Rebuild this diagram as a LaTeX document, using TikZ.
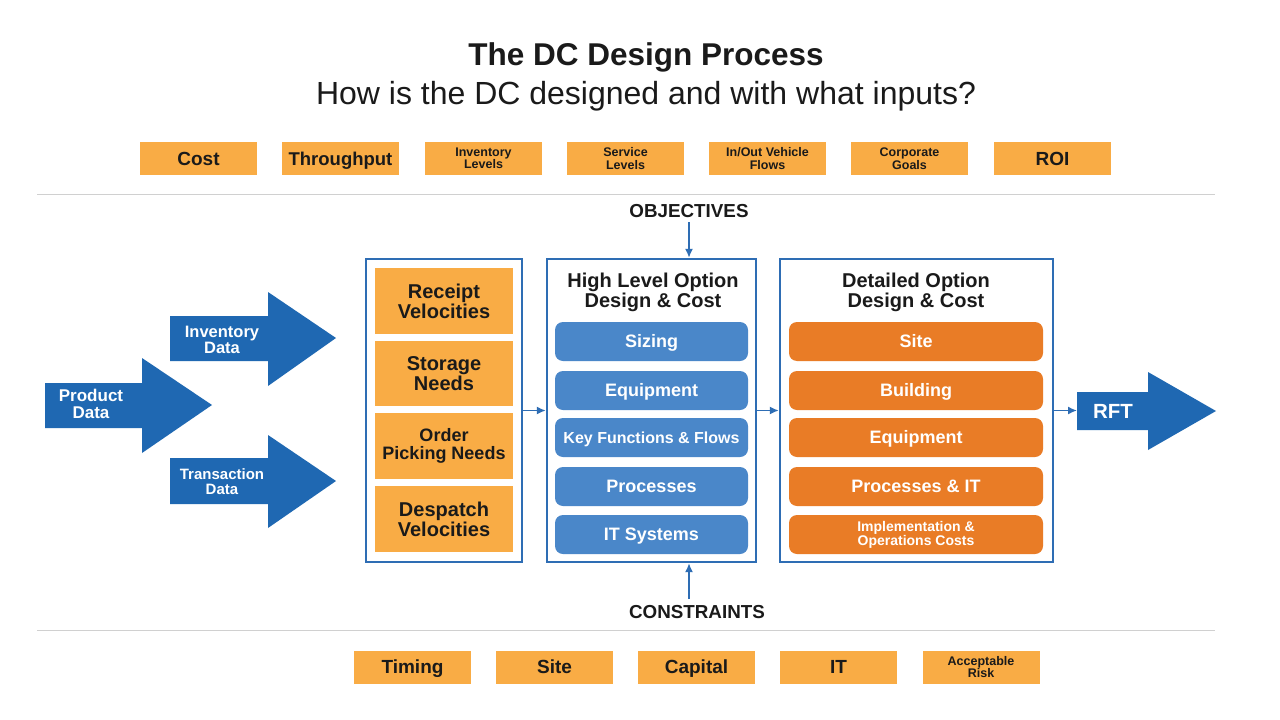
\documentclass[tikz,border=0pt]{standalone}
\usepackage{fontspec}
\setmainfont{Liberation Sans}
\usetikzlibrary{arrows.meta}
\definecolor{orng}{HTML}{F9AC45}
\definecolor{dorng}{HTML}{E97C26}
\definecolor{dblue}{HTML}{1F68B2}
\definecolor{mblue}{HTML}{4A87C9}
\definecolor{lineblue}{HTML}{2E6DB4}
\definecolor{sepgray}{HTML}{D0D0D0}
\definecolor{txt}{HTML}{1A1A1A}
\begin{document}
\begin{tikzpicture}[x=1pt,y=-1pt,
  fs/.style={font=\bfseries\fontsize{#1}{#1}\selectfont},
  one/.style={text height=0.72*#1 pt, text depth=0pt},
  obox/.style={fill=orng, minimum width=117, minimum height=33, inner sep=0, align=center, text=txt},
  ibox/.style={fill=orng, minimum width=138, minimum height=65, inner sep=0, align=center, text=txt, fs=20},
  frame/.style={draw=lineblue, line width=2.4pt, fill=white},
  bbox/.style={fill=mblue, rounded corners=8, minimum width=193, minimum height=39, inner sep=0, align=center, text=white},
  rbox/.style={fill=dorng, rounded corners=8, minimum width=254, minimum height=39, inner sep=0, align=center, text=white},
  conn/.style={draw=lineblue, line width=1.6pt, -{Latex[length=9pt,width=8pt]}},
  bigarrow/.style={fill=dblue},
  atext/.style={text=white, align=center, fs=#1},
]
\useasboundingbox (0,0) rectangle (1280,720);
\fill[white] (0,0) rectangle (1280,720);

% Titles
\node[fs=31.5, text=txt, one=31.5] (title) at (646,54) {The DC Design Process};
\node[font=\fontsize{32}{32}\selectfont, text=txt, one=32] (subtitle) at (646,92.5) {How is the DC designed and with what inputs?};

% Top objective boxes
\node[obox, fs=19, one=19] (cost) at (198.5,158.5) {Cost};
\node[obox, fs=18.5, one=18.5] (thr) at (340.5,158.5) {Throughput};
\node[obox, fs=12.5] (inv) at (483.5,158.5) {Inventory\\Levels};
\node[obox, fs=12.5] (serv) at (625.5,158.5) {Service\\Levels};
\node[obox, fs=12.5] (veh) at (767.5,158.5) {In/Out Vehicle\\Flows};
\node[obox, fs=12.5] (corp) at (909.5,158.5) {Corporate\\Goals};
\node[obox, fs=19, one=19] (roi) at (1052.5,158.5) {ROI};

% separators
\draw[sepgray, line width=0.8pt] (37,194) -- (1215,194);
\draw[sepgray, line width=0.8pt] (37,630) -- (1215,630);

% Objectives / Constraints labels
\node[fs=18.8, text=txt, one=18.8] (obj) at (689,211) {OBJECTIVES};
\node[fs=18.8, text=txt, one=18.8] (con) at (697,612) {CONSTRAINTS};

% Frames
\node[frame, minimum width=156, minimum height=303, inner sep=0] (left) at (444,410.5) {};
\node[frame, minimum width=209, minimum height=303, inner sep=0] (mid) at (651.5,410.5) {};
\node[frame, minimum width=273, minimum height=303, inner sep=0] (right) at (916.5,410.5) {};

% Left inner boxes
\node[ibox, minimum height=66] (rec) at (444,301) {Receipt\\Velocities};
\node[ibox] (sto) at (444,373.5) {Storage\\Needs};
\node[ibox, minimum height=66, fs=18] (ord) at (444,446) {Order\\Picking Needs};
\node[ibox, minimum height=66] (des) at (444,519) {Despatch\\Velocities};

% Middle
\node[fs=20, text=txt, align=center] (midt) at (653,292.5) {High Level Option\\Design \& Cost};
\node[bbox, fs=18, one=18] (siz) at (651.5,341.5) {Sizing};
\node[bbox, fs=18, one=18] (equ) at (651.5,390.5) {Equipment};
\node[bbox, fs=16, one=16] (key) at (651.5,437.5) {Key Functions \& Flows};
\node[bbox, fs=18, one=18] (pro) at (651.5,486.5) {Processes};
\node[bbox, fs=18, one=18] (its) at (651.5,534.5) {IT Systems};

% Right
\node[fs=20, text=txt, align=center] (rigt) at (916,292.5) {Detailed Option\\Design \& Cost};
\node[rbox, fs=18, one=18] (site) at (916,341.5) {Site};
\node[rbox, fs=18, one=18] (bld) at (916,390.5) {Building};
\node[rbox, fs=18, one=18] (req) at (916,437.5) {Equipment};
\node[rbox, fs=18, one=18] (pit) at (916,486.5) {Processes \& IT};
\node[rbox, fs=14] (imp) at (916,534.5) {Implementation \&\\Operations Costs};

% Big arrows
\fill[bigarrow] (170,316) -- (268,316) -- (268,292) -- (336,338) -- (268,386) -- (268,361) -- (170,361) -- cycle;
\node[atext=16.5] (invd) at (222,340) {Inventory\\Data};
\fill[bigarrow] (45,383) -- (142,383) -- (142,358) -- (212,405) -- (142,453) -- (142,428) -- (45,428) -- cycle;
\node[atext=17] (prod) at (91,404) {Product\\Data};
\fill[bigarrow] (170,458) -- (268,458) -- (268,435) -- (336,481) -- (268,528) -- (268,504) -- (170,504) -- cycle;
\node[atext=15] (trd) at (222,482) {Transaction\\Data};
\fill[bigarrow] (1077,392) -- (1148,392) -- (1148,372) -- (1216,411) -- (1148,450) -- (1148,430) -- (1077,430) -- cycle;
\coordinate (rft) at (1077,411);
\node[atext=20.5, one=20.5] (rftt) at (1113,411) {RFT};

% Connectors
\draw[conn] (left.east) -- (mid.west);
\draw[conn] (mid.east) -- (right.west);
\draw[conn] (right.east) -- (right.east -| rft);
\coordinate (objx) at (689,222);
\coordinate (conx) at (689,599);
\draw[conn] (objx) -- (objx |- mid.north);
\draw[conn] (conx) -- (conx |- mid.south);

% Bottom constraint boxes
\node[obox, fs=19, one=19] (tim) at (412.5,667) {Timing};
\node[obox, fs=19, one=19] (bsite) at (554.5,667) {Site};
\node[obox, fs=19, one=19] (cap) at (696.5,667) {Capital};
\node[obox, fs=19, one=19] (bit) at (838.5,667) {IT};
\node[obox, fs=12.5] (risk) at (981,667) {Acceptable\\Risk};
\end{tikzpicture}
\end{document}
